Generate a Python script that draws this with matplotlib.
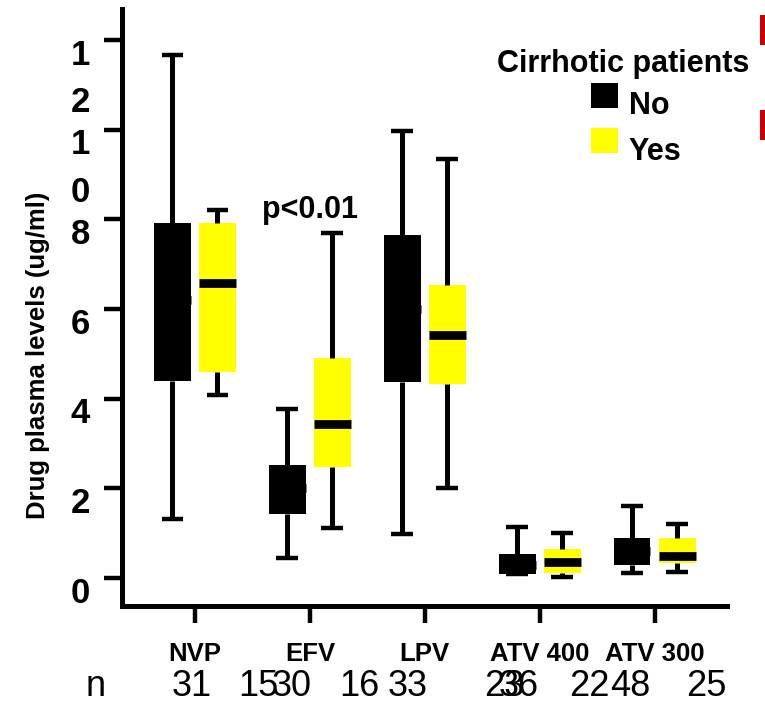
import matplotlib
matplotlib.use('Agg')
import matplotlib.pyplot as plt
from matplotlib.patches import Patch, Rectangle
from matplotlib.transforms import ScaledTranslation

# ---------------- data ----------------
drugs = ['NVP', 'EFV', 'LPV', 'ATV 400', 'ATV 300']
groups = ['No', 'Yes']
group_colors = ['#000000', '#ffff00']

# five-number summaries per drug (ug/ml)
no_whislo = [1.31, 0.45, 0.97, 0.08, 0.11]
no_q1     = [4.40, 1.42, 4.38, 0.08, 0.30]
no_med    = [6.20, 2.00, 6.00, 0.30, 0.60]
no_q3     = [7.92, 2.52, 7.65, 0.54, 0.89]
no_whishi = [11.66, 3.76, 9.96, 1.13, 1.60]

yes_whislo = [4.08, 1.11, 2.00, 0.02, 0.13]
yes_q1     = [4.60, 2.47, 4.33, 0.12, 0.34]
yes_med    = [6.57, 3.43, 5.41, 0.35, 0.48]
yes_q3     = [7.92, 4.90, 6.54, 0.65, 0.89]
yes_whishi = [8.20, 7.69, 9.34, 1.00, 1.20]

n_no = [31, 30, 33, 36, 48]
n_yes = [15, 16, 23, 22, 25]

ytick_values = [0, 2, 4, 6, 8, 10, 12]
ytick_labels = ['0', '2', '4', '6', '8', '1\n0', '1\n2']
pvalue_text = 'p<0.01'
pvalue_drug = 1
legend_title = 'Cirrhotic patients'
ylabel = 'Drug plasma levels (ug/ml)'

# ---------------- layout ----------------
W, H = 765, 704
offset = 0.196
box_w = 0.32
n_no_dx = [-0.03, -0.16, -0.15, -0.18, -0.21]
n_yes_dx = [0.55, 0.43, 0.69, 0.43, 0.45]
n_y = -0.150

plt.rcParams['font.family'] = ['Liberation Sans', 'DejaVu Sans']

fig = plt.figure(figsize=(W / 100, H / 100), dpi=100)
ax = fig.add_axes([122 / W, 98 / H, (727 - 122) / W, (695 - 98) / H])


def make_stats(lo, q1, med, q3, hi):
    return [dict(whislo=a, q1=b, med=c, q3=d, whishi=e, fliers=[])
            for a, b, c, d, e in zip(lo, q1, med, q3, hi)]


sets = [make_stats(no_whislo, no_q1, no_med, no_q3, no_whishi),
        make_stats(yes_whislo, yes_q1, yes_med, yes_q3, yes_whishi)]

for gi, (st, col) in enumerate(zip(sets, group_colors)):
    pos = [i + (2 * gi - 1) * offset for i in range(len(drugs))]
    ax.bxp(st, positions=pos, widths=box_w, patch_artist=True,
           showfliers=False, capwidths=0.19,
           boxprops=dict(facecolor=col, edgecolor='none', linewidth=0),
           whiskerprops=dict(color='black', linewidth=3.6, solid_capstyle='butt'),
           capprops=dict(color='black', linewidth=3.2, solid_capstyle='butt'),
           medianprops=dict(color='black', linewidth=6.3, solid_capstyle='butt'))

ax.set_xlim(-0.635, 4.63)
ax.set_ylim(-0.625, 12.69)

for s in ['top', 'right']:
    ax.spines[s].set_visible(False)
for s in ['left', 'bottom']:
    ax.spines[s].set_linewidth(3.6)

ax.set_xticks(range(len(drugs)), labels=drugs)
ax.set_yticks(ytick_values, labels=ytick_labels)
ax.tick_params(axis='y', direction='out', length=13, width=3.2, pad=10,
               labelsize=25)
ax.tick_params(axis='x', direction='out', length=12, width=3.2, pad=14,
               labelsize=18.5)
shift_up = ScaledTranslation(0, 1 / 72, fig.dpi_scale_trans)
for lab in ax.get_yticklabels():
    lab.set_fontweight('bold')
    lab.set_va('top')
    lab.set_linespacing(1.55)
    lab.set_transform(lab.get_transform() + shift_up)
for lab in ax.get_xticklabels():
    lab.set_fontweight('bold')

ax.set_ylabel(ylabel, fontsize=18.5, fontweight='bold', va='center')
ax.yaxis.set_label_coords(-0.139, 0.42)

# p-value annotation
ax.text(pvalue_drug, 8.2, pvalue_text, ha='center', va='center',
        fontsize=22, fontweight='bold')

# n row
ax.text(-26 / 605, n_y, 'n', transform=ax.transAxes, ha='center',
        va='baseline', fontsize=26)
for i in range(len(drugs)):
    ax.text(i + n_no_dx[i], n_y, str(n_no[i]),
            transform=ax.get_xaxis_transform(), ha='center', va='baseline',
            fontsize=26)
    ax.text(i + n_yes_dx[i], n_y, str(n_yes[i]),
            transform=ax.get_xaxis_transform(), ha='center', va='baseline',
            fontsize=26)

# legend
handles = [Patch(facecolor=c, edgecolor='none') for c in group_colors]
leg = fig.legend(handles, groups, loc='upper left',
                 bbox_to_anchor=(591 / W, 1 - 83 / H), frameon=False,
                 prop=dict(weight='bold', size=22),
                 handlelength=0.88, handleheight=0.88, handletextpad=0.36,
                 labelspacing=0.5, borderpad=0, borderaxespad=0)
shift_down = ScaledTranslation(0, -6 / 72, fig.dpi_scale_trans)
for t in leg.get_texts():
    t.set_transform(t.get_transform() + shift_down)
fig.text(623 / W, 1 - 64 / H, legend_title, ha='center', va='center',
         fontsize=22, fontweight='bold')

# cropped red marks at the right edge
for y0, y1 in [(15, 45), (110, 140)]:
    fig.patches.append(Rectangle((760 / W, 1 - y1 / H), 6 / W, (y1 - y0) / H,
                                 transform=fig.transFigure,
                                 facecolor='#cc0000', edgecolor='none'))

fig.savefig('out.png', dpi=100)
